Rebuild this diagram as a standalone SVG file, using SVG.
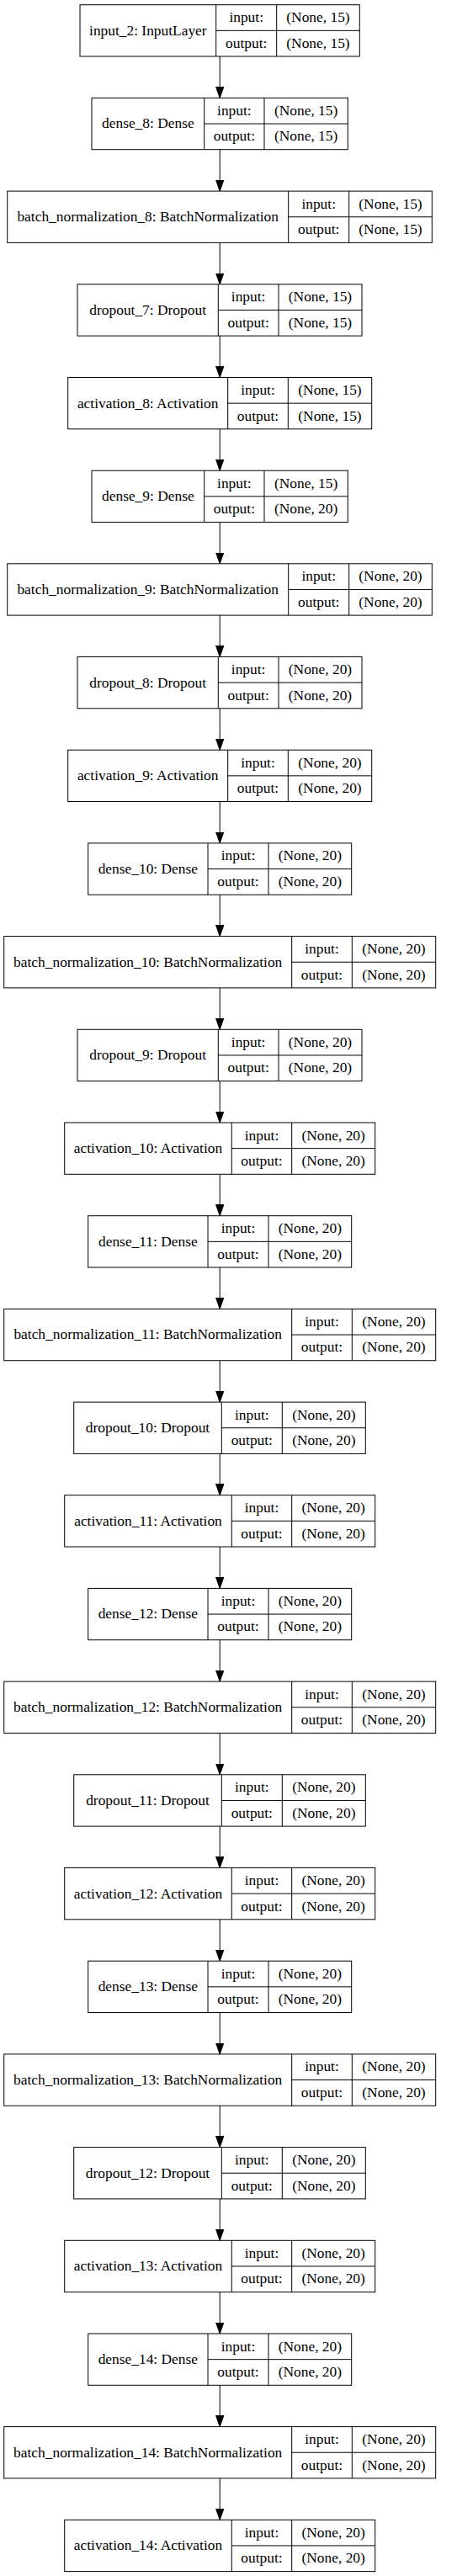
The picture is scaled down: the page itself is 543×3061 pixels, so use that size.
<svg xmlns="http://www.w3.org/2000/svg" width="543" height="3061" viewBox="0 0 543 3061">
<style>
rect{fill:#fff;stroke:#000;stroke-width:1}
path{fill:none;stroke:#000;stroke-width:1}
text{font-family:"Liberation Serif","Times New Roman",serif;font-size:17.4px;text-anchor:middle;fill:#000}
#edges path{fill:none;stroke:#000;stroke-width:1;marker-end:url(#ah)}
</style>
<defs>
<marker id="ah" markerUnits="userSpaceOnUse" markerWidth="14" markerHeight="10" refX="13.3" refY="4.67" orient="auto"><polygon points="0,0 13.3,4.67 0,9.33" fill="#000" stroke="#000" stroke-width="1"/></marker>
</defs>
<rect x="0" y="0" width="543" height="3061" style="stroke:none;fill:#fff"/>
<g id="edges">
<path d="M261.2,67V116.4"/>
<path d="M261.2,177.7V227.1"/>
<path d="M261.2,288.4V337.8"/>
<path d="M261.2,399.1V448.5"/>
<path d="M261.2,509.8V559.2"/>
<path d="M261.2,620.5V669.8"/>
<path d="M261.2,731.1V780.5"/>
<path d="M261.2,841.8V891.2"/>
<path d="M261.2,952.5V1001.9"/>
<path d="M261.2,1063.2V1112.6"/>
<path d="M261.2,1173.9V1223.3"/>
<path d="M261.2,1284.6V1334"/>
<path d="M261.2,1395.3V1444.7"/>
<path d="M261.2,1506V1555.4"/>
<path d="M261.2,1616.7V1666.1"/>
<path d="M261.2,1727.4V1776.7"/>
<path d="M261.2,1838V1887.4"/>
<path d="M261.2,1948.7V1998.1"/>
<path d="M261.2,2059.4V2108.8"/>
<path d="M261.2,2170.1V2219.5"/>
<path d="M261.2,2280.8V2330.2"/>
<path d="M261.2,2391.5V2440.9"/>
<path d="M261.2,2502.2V2551.6"/>
<path d="M261.2,2612.9V2662.3"/>
<path d="M261.2,2723.6V2773"/>
<path d="M261.2,2834.3V2883.6"/>
<path d="M261.2,2944.9V2994.3"/>
</g>

<g id="input_2" transform="translate(0,5.7)">
<rect x="95" y="0" width="332.3" height="61.3"/>
<path d="M256.7,0V61.3M328.7,0V61.3M256.7,30.65H427.3"/>
<text x="175.85" y="36">input_2: InputLayer</text>
<text x="292.7" y="20.6">input:</text><text x="292.7" y="51">output:</text>
<text x="378" y="20.6">(None, 15)</text><text x="378" y="51">(None, 15)</text>
</g>

<g id="dense_8" transform="translate(0,116.4)">
<rect x="109" y="0" width="304.3" height="61.3"/>
<path d="M242.7,0V61.3M314,0V61.3M242.7,30.65H413.3"/>
<text x="175.85" y="36">dense_8: Dense</text>
<text x="278.35" y="20.6">input:</text><text x="278.35" y="51">output:</text>
<text x="363.65" y="20.6">(None, 15)</text><text x="363.65" y="51">(None, 15)</text>
</g>

<g id="batch_normalization_8" transform="translate(0,227.1)">
<rect x="8.7" y="0" width="504.6" height="61.3"/>
<path d="M342.7,0V61.3M414.7,0V61.3M342.7,30.65H513.3"/>
<text x="175.7" y="36">batch_normalization_8: BatchNormalization</text>
<text x="378.7" y="20.6">input:</text><text x="378.7" y="51">output:</text>
<text x="464" y="20.6">(None, 15)</text><text x="464" y="51">(None, 15)</text>
</g>

<g id="dropout_7" transform="translate(0,337.8)">
<rect x="92" y="0" width="338" height="61.3"/>
<path d="M259.3,0V61.3M331,0V61.3M259.3,30.65H430"/>
<text x="175.65" y="36">dropout_7: Dropout</text>
<text x="295.15" y="20.6">input:</text><text x="295.15" y="51">output:</text>
<text x="380.5" y="20.6">(None, 15)</text><text x="380.5" y="51">(None, 15)</text>
</g>

<g id="activation_8" transform="translate(0,448.5)">
<rect x="80.7" y="0" width="361" height="61.3"/>
<path d="M270.7,0V61.3M342.3,0V61.3M270.7,30.65H441.7"/>
<text x="175.7" y="36">activation_8: Activation</text>
<text x="306.5" y="20.6">input:</text><text x="306.5" y="51">output:</text>
<text x="392" y="20.6">(None, 15)</text><text x="392" y="51">(None, 15)</text>
</g>

<g id="dense_9" transform="translate(0,559.2)">
<rect x="109" y="0" width="304.3" height="61.3"/>
<path d="M242.7,0V61.3M314,0V61.3M242.7,30.65H413.3"/>
<text x="175.85" y="36">dense_9: Dense</text>
<text x="278.35" y="20.6">input:</text><text x="278.35" y="51">output:</text>
<text x="363.65" y="20.6">(None, 15)</text><text x="363.65" y="51">(None, 20)</text>
</g>

<g id="batch_normalization_9" transform="translate(0,669.8)">
<rect x="8.7" y="0" width="504.6" height="61.3"/>
<path d="M342.7,0V61.3M414.7,0V61.3M342.7,30.65H513.3"/>
<text x="175.7" y="36">batch_normalization_9: BatchNormalization</text>
<text x="378.7" y="20.6">input:</text><text x="378.7" y="51">output:</text>
<text x="464" y="20.6">(None, 20)</text><text x="464" y="51">(None, 20)</text>
</g>

<g id="dropout_8" transform="translate(0,780.5)">
<rect x="92" y="0" width="338" height="61.3"/>
<path d="M259.3,0V61.3M331,0V61.3M259.3,30.65H430"/>
<text x="175.65" y="36">dropout_8: Dropout</text>
<text x="295.15" y="20.6">input:</text><text x="295.15" y="51">output:</text>
<text x="380.5" y="20.6">(None, 20)</text><text x="380.5" y="51">(None, 20)</text>
</g>

<g id="activation_9" transform="translate(0,891.2)">
<rect x="80.7" y="0" width="361" height="61.3"/>
<path d="M270.7,0V61.3M342.3,0V61.3M270.7,30.65H441.7"/>
<text x="175.7" y="36">activation_9: Activation</text>
<text x="306.5" y="20.6">input:</text><text x="306.5" y="51">output:</text>
<text x="392" y="20.6">(None, 20)</text><text x="392" y="51">(None, 20)</text>
</g>

<g id="dense_10" transform="translate(0,1001.9)">
<rect x="104.7" y="0" width="313" height="61.3"/>
<path d="M247,0V61.3M319,0V61.3M247,30.65H417.7"/>
<text x="175.85" y="36">dense_10: Dense</text>
<text x="283" y="20.6">input:</text><text x="283" y="51">output:</text>
<text x="368.35" y="20.6">(None, 20)</text><text x="368.35" y="51">(None, 20)</text>
</g>

<g id="batch_normalization_10" transform="translate(0,1112.6)">
<rect x="4.7" y="0" width="513" height="61.3"/>
<path d="M346.7,0V61.3M418.3,0V61.3M346.7,30.65H517.7"/>
<text x="175.7" y="36">batch_normalization_10: BatchNormalization</text>
<text x="382.5" y="20.6">input:</text><text x="382.5" y="51">output:</text>
<text x="468" y="20.6">(None, 20)</text><text x="468" y="51">(None, 20)</text>
</g>

<g id="dropout_9" transform="translate(0,1223.3)">
<rect x="92" y="0" width="338" height="61.3"/>
<path d="M259.3,0V61.3M331,0V61.3M259.3,30.65H430"/>
<text x="175.65" y="36">dropout_9: Dropout</text>
<text x="295.15" y="20.6">input:</text><text x="295.15" y="51">output:</text>
<text x="380.5" y="20.6">(None, 20)</text><text x="380.5" y="51">(None, 20)</text>
</g>

<g id="activation_10" transform="translate(0,1334)">
<rect x="76.7" y="0" width="369" height="61.3"/>
<path d="M275.3,0V61.3M346.7,0V61.3M275.3,30.65H445.7"/>
<text x="176" y="36">activation_10: Activation</text>
<text x="311" y="20.6">input:</text><text x="311" y="51">output:</text>
<text x="396.2" y="20.6">(None, 20)</text><text x="396.2" y="51">(None, 20)</text>
</g>

<g id="dense_11" transform="translate(0,1444.7)">
<rect x="104.7" y="0" width="313" height="61.3"/>
<path d="M247,0V61.3M319,0V61.3M247,30.65H417.7"/>
<text x="175.85" y="36">dense_11: Dense</text>
<text x="283" y="20.6">input:</text><text x="283" y="51">output:</text>
<text x="368.35" y="20.6">(None, 20)</text><text x="368.35" y="51">(None, 20)</text>
</g>

<g id="batch_normalization_11" transform="translate(0,1555.4)">
<rect x="4.7" y="0" width="513" height="61.3"/>
<path d="M346.7,0V61.3M418.3,0V61.3M346.7,30.65H517.7"/>
<text x="175.7" y="36">batch_normalization_11: BatchNormalization</text>
<text x="382.5" y="20.6">input:</text><text x="382.5" y="51">output:</text>
<text x="468" y="20.6">(None, 20)</text><text x="468" y="51">(None, 20)</text>
</g>

<g id="dropout_10" transform="translate(0,1666.1)">
<rect x="87.7" y="0" width="346.6" height="61.3"/>
<path d="M263.3,0V61.3M335.3,0V61.3M263.3,30.65H434.3"/>
<text x="175.5" y="36">dropout_10: Dropout</text>
<text x="299.3" y="20.6">input:</text><text x="299.3" y="51">output:</text>
<text x="384.8" y="20.6">(None, 20)</text><text x="384.8" y="51">(None, 20)</text>
</g>

<g id="activation_11" transform="translate(0,1776.7)">
<rect x="76.7" y="0" width="369" height="61.3"/>
<path d="M275.3,0V61.3M346.7,0V61.3M275.3,30.65H445.7"/>
<text x="176" y="36">activation_11: Activation</text>
<text x="311" y="20.6">input:</text><text x="311" y="51">output:</text>
<text x="396.2" y="20.6">(None, 20)</text><text x="396.2" y="51">(None, 20)</text>
</g>

<g id="dense_12" transform="translate(0,1887.4)">
<rect x="104.7" y="0" width="313" height="61.3"/>
<path d="M247,0V61.3M319,0V61.3M247,30.65H417.7"/>
<text x="175.85" y="36">dense_12: Dense</text>
<text x="283" y="20.6">input:</text><text x="283" y="51">output:</text>
<text x="368.35" y="20.6">(None, 20)</text><text x="368.35" y="51">(None, 20)</text>
</g>

<g id="batch_normalization_12" transform="translate(0,1998.1)">
<rect x="4.7" y="0" width="513" height="61.3"/>
<path d="M346.7,0V61.3M418.3,0V61.3M346.7,30.65H517.7"/>
<text x="175.7" y="36">batch_normalization_12: BatchNormalization</text>
<text x="382.5" y="20.6">input:</text><text x="382.5" y="51">output:</text>
<text x="468" y="20.6">(None, 20)</text><text x="468" y="51">(None, 20)</text>
</g>

<g id="dropout_11" transform="translate(0,2108.8)">
<rect x="87.7" y="0" width="346.6" height="61.3"/>
<path d="M263.3,0V61.3M335.3,0V61.3M263.3,30.65H434.3"/>
<text x="175.5" y="36">dropout_11: Dropout</text>
<text x="299.3" y="20.6">input:</text><text x="299.3" y="51">output:</text>
<text x="384.8" y="20.6">(None, 20)</text><text x="384.8" y="51">(None, 20)</text>
</g>

<g id="activation_12" transform="translate(0,2219.5)">
<rect x="76.7" y="0" width="369" height="61.3"/>
<path d="M275.3,0V61.3M346.7,0V61.3M275.3,30.65H445.7"/>
<text x="176" y="36">activation_12: Activation</text>
<text x="311" y="20.6">input:</text><text x="311" y="51">output:</text>
<text x="396.2" y="20.6">(None, 20)</text><text x="396.2" y="51">(None, 20)</text>
</g>

<g id="dense_13" transform="translate(0,2330.2)">
<rect x="104.7" y="0" width="313" height="61.3"/>
<path d="M247,0V61.3M319,0V61.3M247,30.65H417.7"/>
<text x="175.85" y="36">dense_13: Dense</text>
<text x="283" y="20.6">input:</text><text x="283" y="51">output:</text>
<text x="368.35" y="20.6">(None, 20)</text><text x="368.35" y="51">(None, 20)</text>
</g>

<g id="batch_normalization_13" transform="translate(0,2440.9)">
<rect x="4.7" y="0" width="513" height="61.3"/>
<path d="M346.7,0V61.3M418.3,0V61.3M346.7,30.65H517.7"/>
<text x="175.7" y="36">batch_normalization_13: BatchNormalization</text>
<text x="382.5" y="20.6">input:</text><text x="382.5" y="51">output:</text>
<text x="468" y="20.6">(None, 20)</text><text x="468" y="51">(None, 20)</text>
</g>

<g id="dropout_12" transform="translate(0,2551.6)">
<rect x="87.7" y="0" width="346.6" height="61.3"/>
<path d="M263.3,0V61.3M335.3,0V61.3M263.3,30.65H434.3"/>
<text x="175.5" y="36">dropout_12: Dropout</text>
<text x="299.3" y="20.6">input:</text><text x="299.3" y="51">output:</text>
<text x="384.8" y="20.6">(None, 20)</text><text x="384.8" y="51">(None, 20)</text>
</g>

<g id="activation_13" transform="translate(0,2662.3)">
<rect x="76.7" y="0" width="369" height="61.3"/>
<path d="M275.3,0V61.3M346.7,0V61.3M275.3,30.65H445.7"/>
<text x="176" y="36">activation_13: Activation</text>
<text x="311" y="20.6">input:</text><text x="311" y="51">output:</text>
<text x="396.2" y="20.6">(None, 20)</text><text x="396.2" y="51">(None, 20)</text>
</g>

<g id="dense_14" transform="translate(0,2773)">
<rect x="104.7" y="0" width="313" height="61.3"/>
<path d="M247,0V61.3M319,0V61.3M247,30.65H417.7"/>
<text x="175.85" y="36">dense_14: Dense</text>
<text x="283" y="20.6">input:</text><text x="283" y="51">output:</text>
<text x="368.35" y="20.6">(None, 20)</text><text x="368.35" y="51">(None, 20)</text>
</g>

<g id="batch_normalization_14" transform="translate(0,2883.6)">
<rect x="4.7" y="0" width="513" height="61.3"/>
<path d="M346.7,0V61.3M418.3,0V61.3M346.7,30.65H517.7"/>
<text x="175.7" y="36">batch_normalization_14: BatchNormalization</text>
<text x="382.5" y="20.6">input:</text><text x="382.5" y="51">output:</text>
<text x="468" y="20.6">(None, 20)</text><text x="468" y="51">(None, 20)</text>
</g>

<g id="activation_14" transform="translate(0,2994.3)">
<rect x="76.7" y="0" width="369" height="61.3"/>
<path d="M275.3,0V61.3M346.7,0V61.3M275.3,30.65H445.7"/>
<text x="176" y="36">activation_14: Activation</text>
<text x="311" y="20.6">input:</text><text x="311" y="51">output:</text>
<text x="396.2" y="20.6">(None, 20)</text><text x="396.2" y="51">(None, 20)</text>
</g>
</svg>
